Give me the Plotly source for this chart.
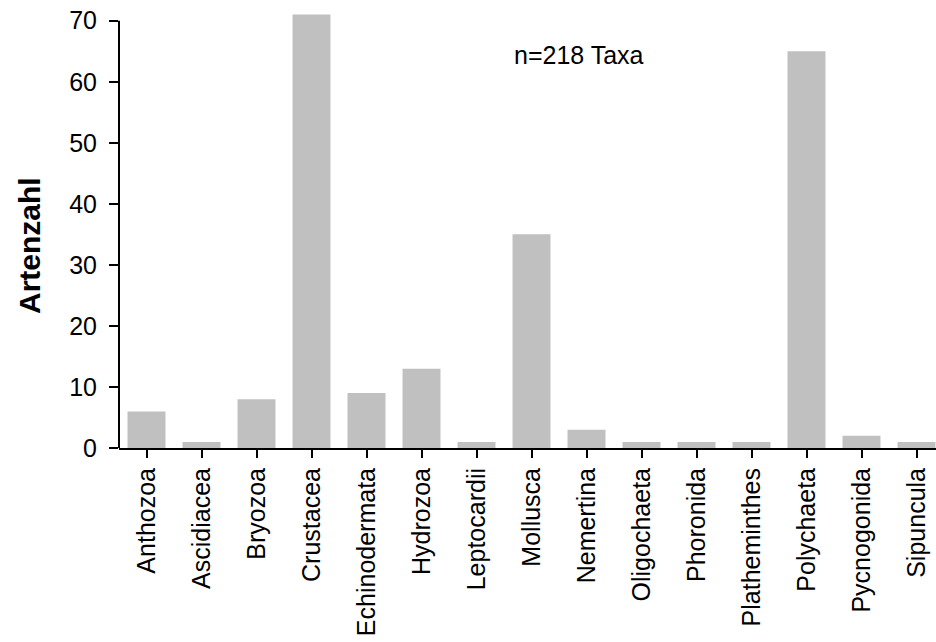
import plotly.graph_objects as go

categories = ["Anthozoa", "Ascidiacea", "Bryozoa", "Crustacea", "Echinodermata",
              "Hydrozoa", "Leptocardii", "Mollusca", "Nemertina", "Oligochaeta",
              "Phoronida", "Plathelminthes", "Polychaeta", "Pycnogonida", "Sipuncula"]
label_text = ["Anthozoa", "Ascidiacea", "Bryozoa", "Crustacea", "Echinodermata",
              "Hydrozoa", "Leptocardii", "Mollusca", "Nemertina", "Oligochaeta",
              "Phoronida", "Platheminthes", "Polychaeta", "Pycnogonida", "Sipuncula"]
counts = [6, 1, 8, 71, 9, 13, 1, 35, 3, 1, 1, 1, 65, 2, 1]
y_ticks = [0, 10, 20, 30, 40, 50, 60, 70]
note = "n=218 Taxa"
y_title = "Artenzahl"

FONT = "Liberation Sans, Arial, sans-serif"

W, H = 936, 642
L = 119
T = 12
B = 194
PW = W - L
PH = H - T - B

fig = go.Figure()
fig.add_trace(go.Bar(
    x=list(range(len(categories))),
    y=counts,
    marker=dict(color="#C0C0C0", line=dict(width=0)),
    hoverinfo="skip",
))

fig.update_layout(
    width=W, height=H,
    margin=dict(l=L, r=0, t=T, b=B, autoexpand=False),
    paper_bgcolor="white", plot_bgcolor="white",
    bargap=0.31,
    showlegend=False,
    font=dict(family=FONT, size=25, color="black"),
)

fig.update_xaxes(
    range=[-0.5, -0.5 + PW / 55.0],
    tickmode="array",
    tickvals=list(range(len(categories))),
    ticktext=label_text,
    tickangle=-90,
    tickson="boundaries",
    ticks="outside", ticklen=8, tickwidth=2, tickcolor="black",
    showline=True, linecolor="black", linewidth=2,
    showgrid=False, zeroline=False,
    ticklabelstandoff=0,
    ticklabeloverflow="allow",
    tickfont=dict(family=FONT, size=25, color="black"),
    automargin=False,
)

fig.update_yaxes(
    range=[0, PH / 6.104],
    tickmode="array", tickvals=y_ticks,
    ticks="outside", ticklen=9, tickwidth=2, tickcolor="black",
    showline=False, showgrid=False, zeroline=False,
    ticklabelstandoff=7,
    ticklabeloverflow="allow",
    tickfont=dict(family=FONT, size=25, color="black"),
    automargin=False,
)

# y axis line from 0 to 70 only
fig.add_shape(type="line", xref="paper", yref="y", x0=0, x1=0, y0=0, y1=70,
              line=dict(color="black", width=2))

fig.add_annotation(text=note, xref="paper", yref="paper",
                   x=(579 - 119) / PW, y=(448 - 55) / PH,
                   xanchor="center", yanchor="middle", showarrow=False,
                   font=dict(family=FONT, size=25, color="black"))

fig.add_annotation(text="<b>" + y_title + "</b>", xref="paper", yref="paper",
                   x=(29 - 119) / PW, y=(448 - 246) / PH,
                   xanchor="center", yanchor="middle", textangle=-90,
                   showarrow=False,
                   font=dict(family=FONT, size=30, color="black"))

fig.write_html("out.html",
               config={"displayModeBar": False, "staticPlot": True},
               post_script="document.body.style.margin='0';document.body.style.overflow='hidden';")
